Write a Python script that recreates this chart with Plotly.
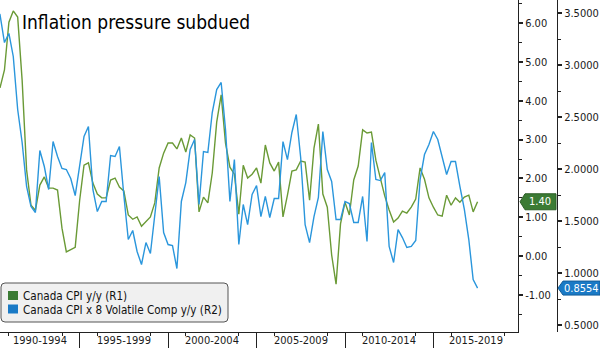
import plotly.graph_objects as go
from datetime import date

# ---------------- data (quarterly, 1990Q2 .. 2017Q3) ----------------
cpi_yy = [4.92, 4.33, 4.79, 6.02, 6.31, 6.15, 4.53, 2.22, 1.31, 1.18,
          1.83, 2.04, 1.75, 1.75, 1.70, 0.72, 0.11, 0.16, 0.23, 1.44,
          2.34, 2.40, 1.88, 1.60, 1.50, 1.50, 1.96, 2.01, 1.78, 1.68,
          1.06, 0.95, 1.01, 0.77, 0.90, 1.01, 1.37, 2.27, 2.65, 2.91,
          2.91, 2.76, 3.04, 2.68, 3.12, 3.04, 1.14, 1.52, 1.37, 2.14,
          3.45, 4.15, 2.91, 2.29, 2.11, 1.08, 2.34, 2.01, 2.11, 2.27,
          1.88, 2.86, 2.40, 2.19, 2.42, 1.01, 1.57, 2.19, 2.22, 2.45,
          2.42, 1.44, 2.78, 3.40, 1.60, 1.26, 0.03, -0.72, 0.83, 1.39,
          1.06, 1.96, 2.32, 3.25, 3.17, 3.19, 2.47, 2.01, 1.55, 1.19,
          0.88, 0.98, 1.16, 1.11, 1.26, 1.47, 2.27, 1.98, 1.50, 1.26,
          1.06, 1.03, 1.57, 1.31, 1.50, 1.39, 1.52, 1.57, 1.14, 1.40]

cpi_x8_yy = [3.534, 3.486, 3.216, 3.303, 3.082, 2.572, 2.255, 1.832, 1.639, 1.582,
             2.178, 2.024, 1.803, 2.264, 2.120, 2.005, 1.995, 1.909, 1.745, 2.024,
             2.313, 2.409, 1.803, 1.591, 1.688, 1.688, 2.130, 2.120, 2.216, 1.750,
             1.322, 1.409, 1.207, 1.082, 1.293, 1.188, 1.563, 1.928, 1.389, 1.274,
             1.264, 1.043, 1.688, 1.870, 2.188, 2.284, 1.659, 2.168, 2.159, 2.543,
             2.764, 2.832, 2.380, 1.688, 2.091, 1.274, 1.659, 1.466, 1.755, 1.841,
             1.543, 1.736, 1.534, 1.716, 1.716, 2.264, 2.091, 2.351, 2.524, 2.111,
             1.466, 1.293, 1.543, 1.726, 2.361, 1.995, 1.880, 1.514, 1.514, 1.688,
             1.668, 1.486, 1.486, 1.736, 1.303, 2.255, 1.899, 1.889, 1.966, 1.255,
             1.101, 1.418, 1.341, 1.245, 1.255, 1.313, 1.899, 2.139, 2.236, 2.361,
             2.284, 2.120, 1.947, 2.072, 2.072, 1.832, 1.611, 1.322, 0.938, 0.8554]

period_labels = ["1990-1994", "1995-1999", "2000-2004", "2005-2009", "2010-2014", "2015-2019"]
period_starts = [1990, 1995, 2000, 2005, 2010, 2015]

r1_ticks = [-1, 0, 1, 2, 3, 4, 5, 6]
r1_text = ["-1.00", "0.00", "1.00", "2.00", "3.00", "4.00", "5.00", "6.00"]
r2_ticks = [0.5, 1.0, 1.5, 2.0, 2.5, 3.0, 3.5]
r2_text = ["0.5000", "1.0000", "1.5000", "2.0000", "2.5000", "3.0000", "3.5000"]

name1 = "Canada CPI y/y (R1)"
name2 = "Canada CPI x 8 Volatile Comp y/y (R2)"
title = "Inflation pressure subdued"

# quarter-end dates
qend = {0: "12-31", 1: "03-31", 2: "06-30", 3: "09-30"}
dates = []
for i in range(len(cpi_yy)):
    k = i + 1
    y = 1990 + k // 4
    q = k % 4
    if q == 0:
        y -= 1
    dates.append(f"{y}-{qend[q]}")

# ---------------- style ----------------
W, H = 600, 351
MB = 19
PH = H - MB          # plot/paper height in px
PLOT_R = 518
AX2_X = 557
FONT = "DejaVu Sans Condensed, DejaVu Sans, sans-serif"
GREEN_LINE = "#6a9a36"
BLUE_LINE = "#2a96dc"
GREEN_DARK = "#3b7b34"
BLUE_DARK = "#1a7ac6"
TXT = "#1a1a1a"

def px(x):
    return x / W

def py(y):
    return (PH - y) / PH

x_start = date(1990, 6, 30)
x_end = date(2019, 10, 13)

fig = go.Figure()
fig.add_trace(go.Scatter(x=dates, y=cpi_yy, mode="lines", name=name1,
                         line=dict(color=GREEN_LINE, width=1.4), yaxis="y", showlegend=False))
fig.add_trace(go.Scatter(x=dates, y=cpi_x8_yy, mode="lines", name=name2,
                         line=dict(color=BLUE_LINE, width=1.4), yaxis="y2", showlegend=False))

minor_years = []
for s in period_starts:
    for yy in (s + 1, s + 4):
        minor_years.append(f"{yy}-01-01")

fig.update_layout(
    width=W, height=H,
    margin=dict(l=0, r=0, t=0, b=MB, pad=0),
    paper_bgcolor="white", plot_bgcolor="white",
    font=dict(family=FONT, size=11, color=TXT),
    xaxis=dict(
        type="date", domain=[0, px(PLOT_R)],
        range=[x_start.isoformat(), x_end.isoformat()],
        showgrid=False, zeroline=False,
        showline=True, linecolor="#222", linewidth=1,
        tickmode="array",
        tickvals=[f"{s}-01-01" for s in period_starts[1:]],
        ticktext=["" for _ in period_starts[1:]],
        ticks="outside", ticklen=15, tickcolor="#222", tickwidth=1,
        minor=dict(tickmode="array", tickvals=minor_years, ticks="outside",
                   ticklen=3, tickcolor="#222", tickwidth=1),
    ),
    yaxis=dict(
        side="right", anchor="x", range=[-1.95, 6.59],
        showgrid=False, zeroline=False,
        showline=True, linecolor="#222", linewidth=1,
        tickmode="array", tickvals=r1_ticks, ticktext=r1_text,
        ticks="outside", ticklen=4, tickcolor="#222", tickwidth=2,
        minor=dict(dtick=0.5, tick0=0, ticks="outside", ticklen=3,
                   tickcolor="#222", tickwidth=1),
        tickfont=dict(family=FONT, size=11, color=TXT),
    ),
    yaxis2=dict(
        overlaying="y", side="right", anchor="free", position=px(AX2_X),
        range=[0.433, 3.625],
        showgrid=False, zeroline=False,
        showline=True, linecolor="#222", linewidth=1,
        tickmode="array", tickvals=r2_ticks, ticktext=r2_text,
        ticks="outside", ticklen=4, tickcolor="#222", tickwidth=2,
        minor=dict(dtick=0.25, tick0=0, ticks="outside", ticklen=3,
                   tickcolor="#222", tickwidth=1),
        tickfont=dict(family=FONT, size=11, color=TXT),
    ),
    showlegend=False,
)

annotations = []
shapes = []

# title
annotations.append(dict(text=title, xref="paper", yref="paper", x=px(20), y=py(22),
                        xanchor="left", yanchor="middle", showarrow=False,
                        font=dict(family=FONT, size=19, color="#000")))

# period labels centred on the visible part of each period
for lab, s in zip(period_labels, period_starts):
    a = max(date(s, 1, 1), x_start)
    b = min(date(s + 5, 1, 1), x_end)
    mid = a + (b - a) / 2
    annotations.append(dict(text=lab, xref="x", yref="paper", x=mid.isoformat(),
                            y=py(341), xanchor="center", yanchor="middle", showarrow=False,
                            font=dict(family=FONT, size=11, color=TXT)))

# legend box (rounded)
L, R, T, B, r = 1, 228, 283, 322, 4
path = (f"M {px(L + r)} {py(T)} L {px(R - r)} {py(T)} Q {px(R)} {py(T)} {px(R)} {py(T + r)} "
        f"L {px(R)} {py(B - r)} Q {px(R)} {py(B)} {px(R - r)} {py(B)} "
        f"L {px(L + r)} {py(B)} Q {px(L)} {py(B)} {px(L)} {py(B - r)} "
        f"L {px(L)} {py(T + r)} Q {px(L)} {py(T)} {px(L + r)} {py(T)} Z")
shapes.append(dict(type="path", xref="paper", yref="paper", path=path,
                   fillcolor="#f0f0f0", line=dict(color="#555", width=1), layer="above"))
for (name, col, yc) in [(name1, GREEN_DARK, 296), (name2, BLUE_DARK, 309.5)]:
    shapes.append(dict(type="rect", xref="paper", yref="paper",
                       x0=px(8), x1=px(18), y0=py(yc - 5), y1=py(yc + 4),
                       fillcolor=col, line=dict(width=0), layer="above"))
    annotations.append(dict(text=name, xref="paper", yref="paper", x=px(21), y=py(yc),
                            xanchor="left", yanchor="middle", showarrow=False,
                            font=dict(family=FONT, size=11.6, color="#111")))

# last-value flags
shapes.append(dict(type="path", xref="paper", yref="y", xsizemode="pixel", ysizemode="pixel",
                   xanchor=px(PLOT_R), yanchor=cpi_yy[-1],
                   path="M 2 0 L 7 8 L 38 8 L 38 -8 L 7 -8 Z",
                   fillcolor=GREEN_DARK, line=dict(color="#2c5e27", width=1), layer="above"))
annotations.append(dict(text=f"{cpi_yy[-1]:.2f}", xref="paper", yref="y", x=px(540), y=cpi_yy[-1],
                        xanchor="center", yanchor="middle", showarrow=False,
                        font=dict(family=FONT, size=11, color="white")))
shapes.append(dict(type="path", xref="paper", yref="y2", xsizemode="pixel", ysizemode="pixel",
                   xanchor=px(AX2_X), yanchor=cpi_x8_yy[-1],
                   path="M 1 0 L 6 7 L 43 7 L 43 -7 L 6 -7 Z",
                   fillcolor=BLUE_DARK, line=dict(color="#135d99", width=1), layer="above"))
annotations.append(dict(text=f"{cpi_x8_yy[-1]:.4f}", xref="paper", yref="y2", x=px(581), y=cpi_x8_yy[-1],
                        xanchor="center", yanchor="middle", showarrow=False,
                        font=dict(family=FONT, size=11, color="white")))

fig.update_layout(annotations=annotations, shapes=shapes)
fig.write_html("out.html")
